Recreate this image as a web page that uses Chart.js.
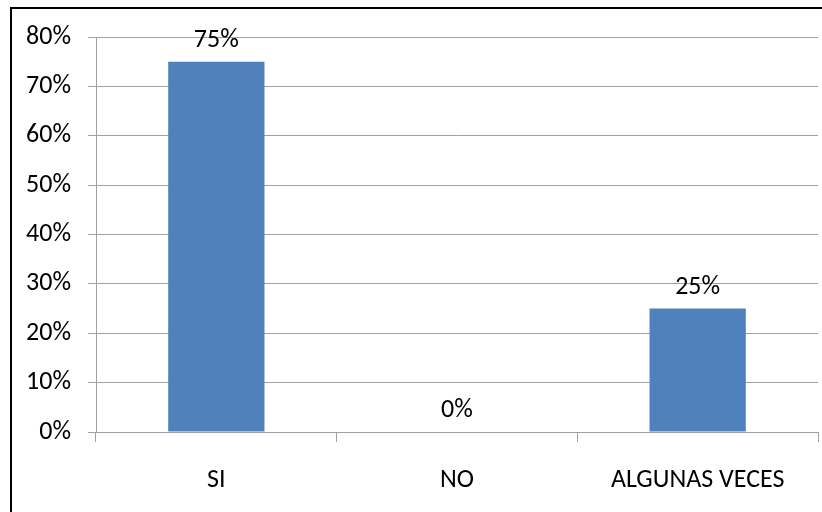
<!DOCTYPE html>
<html>
<head>
<meta charset="utf-8">
<script src="https://cdn.jsdelivr.net/npm/chart.js@4/dist/chart.umd.min.js"></script>
<style>
  html, body { margin: 0; padding: 0; background: #fff; }
  #wrap { width: 822px; height: 512px; }
</style>
</head>
<body>
<div id="wrap"><canvas id="c" width="822" height="512"></canvas></div>
<script>
// Survey answers and their shares (percent)
const categories = ['SI', 'NO', 'ALGUNAS VECES'];
const shares = [75, 0, 25];
// Value axis: 0% .. 80% in steps of 10%
const axisMin = 0;
const axisMax = 80;
const axisStep = 10;

const FONT = "'Carlito', 'Liberation Sans Narrow', 'DejaVu Sans Condensed', sans-serif";
const FONT_SIZE = 26;
const GRID = '#a0a0a0';
const BAR = '#4f81bd';

// White page with the black frame on the top and left edges
const framePlugin = {
  id: 'frame',
  beforeDraw(chart) {
    const ctx = chart.ctx;
    ctx.save();
    ctx.fillStyle = '#ffffff';
    ctx.fillRect(0, 0, chart.width, chart.height);
    ctx.fillStyle = '#000000';
    ctx.fillRect(10, 7, chart.width - 10, 2);
    ctx.fillRect(10, 7, 2, chart.height - 7);
    ctx.restore();
  }
};

// Value labels written above each bar
const valueLabels = {
  id: 'valueLabels',
  afterDatasetsDraw(chart) {
    const ctx = chart.ctx;
    const meta = chart.getDatasetMeta(0);
    ctx.save();
    ctx.font = FONT_SIZE + 'px ' + FONT;
    ctx.fillStyle = '#000000';
    ctx.textAlign = 'center';
    ctx.textBaseline = 'alphabetic';
    meta.data.forEach((bar, i) => {
      const v = chart.data.datasets[0].data[i];
      ctx.fillText(v + '%', bar.x, bar.y - 15);
    });
    ctx.restore();
  }
};

new Chart(document.getElementById('c'), {
  type: 'bar',
  data: {
    labels: categories,
    datasets: [{
      data: shares,
      backgroundColor: BAR,
      borderWidth: 0,
      categoryPercentage: 1.0,
      barPercentage: 0.4
    }]
  },
  options: {
    responsive: false,
    animation: false,
    layout: { padding: { top: 37, right: 4, left: 0, bottom: 0 } },
    plugins: {
      legend: { display: false },
      tooltip: { enabled: false }
    },
    scales: {
      y: {
        min: axisMin,
        max: axisMax,
        ticks: {
          stepSize: axisStep,
          callback: (v) => v + '%',
          color: '#000000',
          font: { family: FONT, size: FONT_SIZE },
          padding: 17
        },
        grid: { color: GRID, lineWidth: 1, tickLength: 8 },
        border: { color: GRID, width: 1 },
        afterFit(scale) { scale.width = 96; }
      },
      x: {
        ticks: {
          color: '#000000',
          font: { family: FONT, size: FONT_SIZE },
          padding: 23,
          maxRotation: 0
        },
        grid: { color: GRID, lineWidth: 1, drawOnChartArea: false, tickLength: 10, offset: true },
        border: { color: GRID, width: 1 },
        afterFit(scale) { scale.height = 80; }
      }
    }
  },
  plugins: [framePlugin, valueLabels]
});
</script>
</body>
</html>
